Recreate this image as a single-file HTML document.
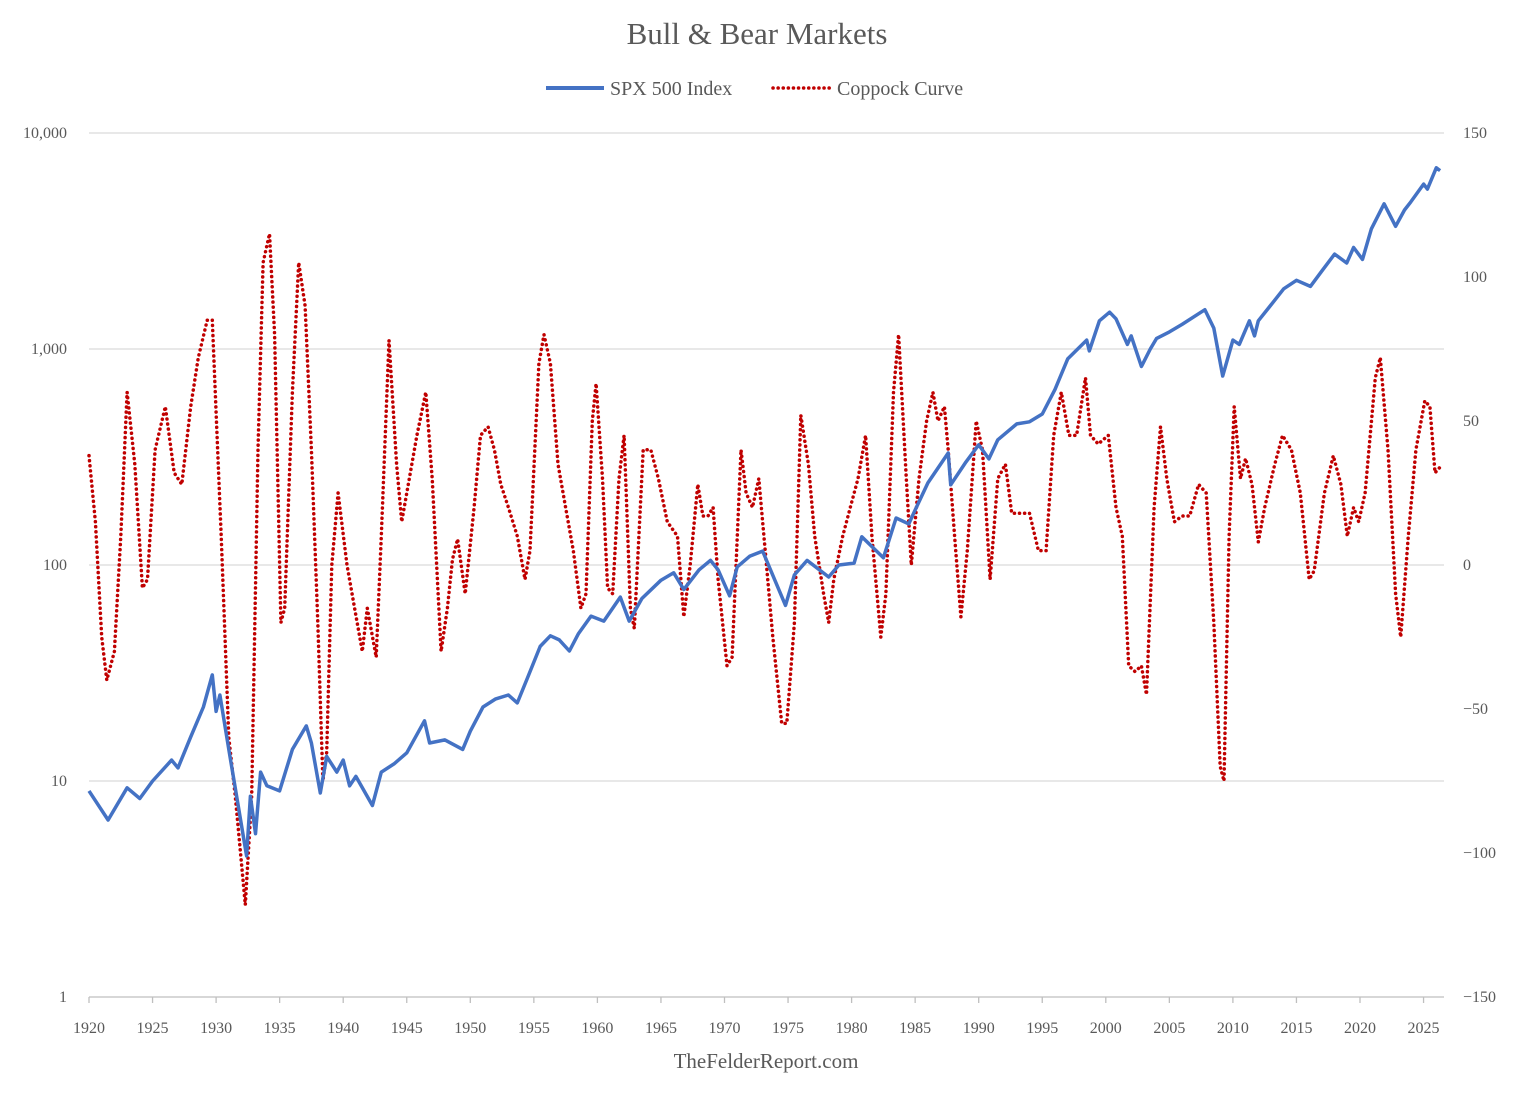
<!DOCTYPE html>
<html><head><meta charset="utf-8">
<style>
html,body{margin:0;padding:0;background:#fff;}
svg text{font-family:"Liberation Serif",serif;fill:#595959;}
</style></head>
<body>
<svg id="chart" width="1515" height="1096" xmlns="http://www.w3.org/2000/svg">
<text x="757" y="44" text-anchor="middle" font-size="31">Bull &amp; Bear Markets</text>
<g>
<line x1="546" y1="88" x2="604" y2="88" stroke="#4472c4" stroke-width="4"/>
<text x="610" y="95" font-size="20">SPX 500 Index</text>
<line x1="773" y1="88" x2="831" y2="88" stroke="#c00000" stroke-width="3.5" stroke-dasharray="0.1 5" stroke-linecap="round"/>
<text x="837" y="95" font-size="20">Coppock Curve</text>
</g>
<g id="grid"></g>
<g id="axes"></g>
<g id="series"></g>
<text x="766" y="1068" text-anchor="middle" font-size="21">TheFelderReport.com</text>
</svg>
<script>
const leftTicks=[1,10,100,1000,10000];
const leftTickLabels=["1","10","100","1,000","10,000"];
const rightTicks=[-150,-100,-50,0,50,100,150];
const xTicks=[1920,1925,1930,1935,1940,1945,1950,1955,1960,1965,1970,1975,1980,1985,1990,1995,2000,2005,2010,2015,2020,2025];
const spxYears=[1920,1921.5,1923,1924,1925,1926.5,1927,1928,1929,1929.7,1930,1930.3,1931,1932.4,1932.7,1933.1,1933.5,1934,1935,1936,1937.1,1937.5,1938.2,1938.7,1939.5,1940,1940.5,1941,1942.3,1943,1944,1945,1946.4,1946.8,1948,1949.4,1950,1951,1952,1953,1953.7,1954.5,1955.5,1956.3,1957,1957.8,1958.5,1959.5,1960.5,1961.8,1962.5,1963.5,1965,1966,1966.8,1968,1968.9,1969.5,1970.4,1971,1972,1973,1974.8,1975.5,1976.5,1978.2,1979,1980.2,1980.8,1982.5,1983.5,1984.5,1985,1986,1987.6,1987.8,1989,1990,1990.8,1991.5,1993,1994,1995,1996,1997,1998.5,1998.7,1999.5,2000.3,2000.8,2001.7,2002,2002.8,2003.5,2004,2005,2006,2007.8,2008.5,2009.2,2010,2010.5,2011.3,2011.7,2012,2013,2014,2015,2016.1,2017,2018,2018.95,2019.5,2020.2,2020.9,2021.9,2022.8,2023.5,2024,2025,2025.3,2026,2026.3];
const spxValues=[9,6.6,9.3,8.3,10,12.5,11.5,16,22,31,21,25,14,4.5,8.5,5.7,11,9.5,9,14,18,15,8.8,13,11,12.5,9.5,10.5,7.7,11,12,13.5,19,15,15.5,14,17,22,24,25,23,30,42,47,45,40,48,58,55,71,55,70,85,92,77,95,105,95,72,98,110,116,65,90,105,88,100,102,135,108,165,155,180,240,330,235,300,360,310,380,450,460,500,650,900,1100,980,1350,1480,1380,1050,1150,830,1000,1120,1200,1300,1520,1250,750,1100,1050,1350,1150,1350,1600,1900,2080,1950,2300,2750,2500,2950,2600,3600,4700,3700,4400,4800,5800,5500,6900,6700];
const copYears=[1920,1920.5,1921,1921.4,1922,1922.5,1923,1923.6,1924.2,1924.6,1925.2,1926,1926.7,1927.3,1928,1928.6,1929.3,1929.7,1930.4,1931,1931.5,1932.3,1932.8,1933.3,1933.7,1934.2,1934.6,1935.1,1935.4,1936,1936.5,1937,1937.5,1938,1938.4,1938.7,1939.1,1939.6,1940.3,1940.9,1941.5,1941.9,1942.6,1943,1943.6,1944.2,1944.6,1945.2,1945.8,1946.5,1947,1947.7,1948.2,1948.6,1949,1949.6,1950.3,1950.8,1951.4,1951.9,1952.4,1953,1953.7,1954.3,1954.7,1955.4,1955.8,1956.3,1956.9,1957.5,1958.1,1958.7,1959.1,1959.6,1959.9,1960.4,1960.8,1961.2,1961.7,1962.1,1962.6,1962.9,1963.6,1964.2,1964.8,1965.5,1966.3,1966.8,1967.3,1967.9,1968.3,1968.7,1969.1,1969.5,1970.2,1970.6,1971.3,1971.7,1972.2,1972.7,1973.2,1973.8,1974.5,1974.9,1975.5,1976,1976.6,1977.1,1977.8,1978.2,1978.6,1979.3,1979.9,1980.5,1981.1,1981.6,1982.3,1982.7,1983.3,1983.7,1984.3,1984.7,1985.3,1985.9,1986.4,1986.8,1987.3,1987.6,1988.1,1988.6,1989.1,1989.8,1990.3,1990.9,1991.5,1992.1,1992.6,1993.3,1994,1994.7,1995.3,1995.9,1996.5,1997.1,1997.7,1998.4,1998.8,1999.4,2000.2,2000.8,2001.3,2001.8,2002.3,2002.8,2003.2,2003.8,2004.3,2004.8,2005.4,2006,2006.6,2007.3,2007.9,2008.5,2009,2009.3,2009.7,2010.1,2010.6,2011,2011.5,2012,2012.5,2013.3,2013.9,2014.6,2015.3,2016,2016.4,2017.2,2017.9,2018.5,2019,2019.5,2019.9,2020.4,2021.2,2021.6,2022.2,2022.8,2023.2,2023.8,2024.4,2025.1,2025.5,2025.9,2026.3];
const copValues=[38,15,-25,-40,-30,10,60,35,-8,-5,40,55,32,28,55,72,85,85,10,-60,-80,-118,-80,40,105,115,80,-20,-15,60,105,90,40,-20,-75,-65,0,25,0,-15,-30,-15,-32,10,78,35,15,30,45,60,30,-30,-15,2,9,-10,20,45,48,40,28,20,10,-5,5,70,80,70,35,20,5,-15,-10,50,63,30,-8,-10,30,45,-15,-22,40,40,30,15,10,-18,0,28,17,17,20,-5,-35,-32,40,25,20,30,5,-25,-55,-55,-20,52,35,10,-10,-20,-5,10,20,30,45,10,-25,-10,60,80,30,0,30,50,60,50,55,40,10,-18,5,50,40,-5,30,35,18,18,18,5,5,45,60,45,45,65,45,42,45,20,10,-35,-37,-35,-45,20,48,30,15,17,17,28,25,-20,-70,-75,10,55,30,37,28,8,20,35,45,40,25,-5,-2,25,38,28,10,20,15,25,65,72,40,-10,-25,10,40,57,55,32,34];

const NS="http://www.w3.org/2000/svg";
const X0=89,PXY=12.71,Y0=997,DEC=216,Y_ZERO=565,PU=2.88,XR=1444;
const xs=y=>X0+(y-1920)*PXY;
const yl=v=>Y0-Math.log10(v)*DEC;
const yr=v=>Y_ZERO-v*PU;
function mk(tag,attrs,parent){const e=document.createElementNS(NS,tag);for(const k in attrs)e.setAttribute(k,attrs[k]);parent.appendChild(e);return e;}
const grid=document.getElementById('grid'),axes=document.getElementById('axes'),series=document.getElementById('series');
leftTicks.forEach((t,i)=>{
  const y=yl(t);
  if(t>1){const g=mk('line',{x1:X0,x2:XR,y1:y,y2:y,stroke:'#d9d9d9','stroke-width':1.3},grid);
  
  }
  const tx=mk('text',{x:67,y:y+5,'text-anchor':'end','font-size':16},axes);tx.textContent=leftTickLabels[i];
  
  
});
rightTicks.forEach(t=>{
  const tx=mk('text',{x:1463,y:yr(t)+5,'font-size':16},axes);tx.textContent=t<0?'\u2212'+(-t):String(t);
  
  
});
const ax=mk('line',{x1:X0,x2:XR,y1:Y0,y2:Y0,stroke:'#bfbfbf','stroke-width':1.3},axes);


xTicks.forEach(t=>{
  const x=xs(t);
  const tk=mk('line',{x1:x,x2:x,y1:Y0,y2:Y0+6,stroke:'#bfbfbf','stroke-width':1.3},axes);
  
  
  const tx=mk('text',{x:x,y:1033,'text-anchor':'middle','font-size':16},axes);tx.textContent=t;
  
  
});
const cp=mk('path',{d:copYears.map((y,i)=>(i?'L':'M')+xs(y).toFixed(1)+' '+yr(copValues[i]).toFixed(1)).join(''),fill:'none',stroke:'#c00000','stroke-width':3.5,'stroke-dasharray':'0.1 5','stroke-linecap':'round','stroke-linejoin':'round'},series);


const sp=mk('path',{d:spxYears.map((y,i)=>(i?'L':'M')+xs(y).toFixed(1)+' '+yl(spxValues[i]).toFixed(1)).join(''),fill:'none',stroke:'#4472c4','stroke-width':3.5,'stroke-linejoin':'round'},series);


</script>
</body></html>
